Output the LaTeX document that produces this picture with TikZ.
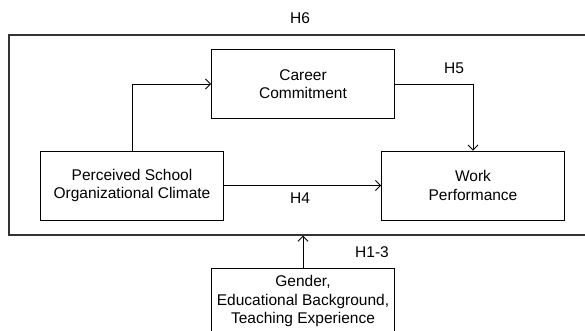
\documentclass[tikz,border=0pt]{standalone}
\usepackage{fontspec}
\setmainfont{Liberation Sans}
\usetikzlibrary{arrows.meta}

\begin{document}
\begin{tikzpicture}[x=1pt, y=-1pt,
    box/.style={draw, line width=0.9pt, minimum width=183pt, minimum height=69pt,
        align=center, inner sep=0pt, font=\fontsize{15.5}{18.5}\selectfont},
    lbl/.style={font=\fontsize{15.5}{18.5}\selectfont},
    arr/.style={-{Straight Barb[length=5pt, width=10pt]}, line width=0.9pt}]
    \useasboundingbox (0,0) rectangle (585,331);

    % Outer frame (runs off the right edge)
    \node[draw, black!80, line width=1.3pt, minimum width=591pt, minimum height=200pt,
        inner sep=0pt] (frame) at (304.5,135) {};
    \node[lbl] (h6) at (300,18) {H6};

    % Variables
    \node[box] (commit) at (303,84) {Career\\Commitment};
    \node[box] (climate) at (132,185.5) {Perceived School\\Organizational Climate};
    \node[box] (perf) at (473,185.5) {Work\\Performance};
    \node[box, minimum height=66pt] (control) at (303,301) {Gender,\\Educational Background,\\Teaching Experience};

    % Paths
    \draw[arr] (climate.north) |- (commit.west);
    \draw[arr] (commit.east) -| (perf.north);
    \draw[arr] (climate.east) -- (perf.west);
    \draw[arr] (control.north) -- (control.north |- frame.south);

    % Hypothesis labels
    \node[lbl] (h5) at (454,68) {H5};
    \node[lbl] (h4) at (300,198) {H4};
    \node[lbl] (h13) at (372,252) {H1-3};
\end{tikzpicture}
\end{document}
